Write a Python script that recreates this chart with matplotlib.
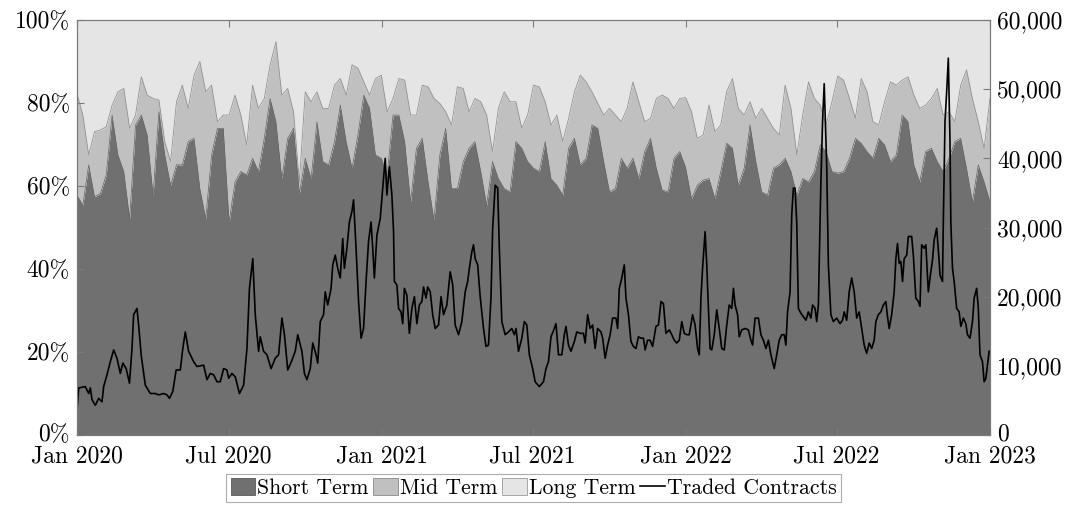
"""Short / mid / long term shares with traded contracts overlay."""

import matplotlib

matplotlib.use("Agg")

import matplotlib.pyplot as plt
import matplotlib.transforms as mtransforms
import numpy as np
import pandas as pd
from matplotlib.lines import Line2D
from matplotlib.patches import Patch
from matplotlib.ticker import FuncFormatter

START = pd.Timestamp("2020-01-01")
END = pd.Timestamp("2023-01-01")

# weekly shares in percent (long term is the remainder to 100)
short_term = [
    57.8, 55.4, 65.1, 57.4, 58.2, 62.7, 77.1, 67.5, 63.5, 52.2,
    74.7, 77.1, 72.3, 57.8, 77.9, 67.5, 60.2, 65.1, 65.1, 70.7,
    71.5, 59.4, 52.2, 67.5, 73.9, 73.9, 51.4, 61.0, 63.5, 62.7,
    66.7, 63.5, 71.5, 81.1, 75.5, 61.8, 71.5, 73.9, 58.2, 66.7,
    61.8, 75.5, 65.9, 65.1, 70.7, 79.5, 70.7, 64.3, 72.3, 81.9,
    78.7, 67.5, 66.7, 62.7, 77.1, 77.1, 70.7, 56.2, 69.1, 71.5,
    61.0, 51.8, 67.5, 73.9, 59.4, 59.4, 65.9, 69.1, 70.7, 63.5,
    55.4, 65.9, 61.8, 59.4, 58.6, 70.7, 69.1, 65.9, 64.3, 63.5,
    70.7, 61.8, 60.2, 57.8, 69.1, 71.5, 65.1, 66.7, 74.7, 73.9,
    65.9, 58.6, 59.4, 66.7, 64.3, 66.7, 61.8, 68.3, 71.5, 64.3,
    59.0, 58.6, 66.7, 68.3, 64.5, 57.0, 60.2, 61.4, 61.8, 57.0,
    63.5, 70.3, 69.1, 60.2, 64.3, 74.7, 65.9, 58.6, 57.8, 64.3,
    65.1, 66.7, 63.5, 57.8, 61.8, 61.0, 63.5, 69.9, 68.3, 63.5,
    63.1, 63.5, 66.7, 71.5, 70.3, 68.3, 66.7, 71.5, 69.9, 65.9,
    67.5, 77.1, 75.5, 65.1, 61.0, 68.3, 69.1, 65.9, 63.5, 66.7,
    70.7, 71.5, 64.3, 56.2, 65.1, 61.0, 56.2,
]
mid_term = [
    24.5, 21.7, 2.4, 15.7, 15.3, 11.6, 2.4, 15.2, 20.0, 21.7,
    2.4, 9.2, 9.6, 23.3, 2.8, 3.2, 5.7, 15.2, 19.2, 8.0,
    15.2, 30.6, 30.5, 16.8, 1.6, 3.2, 25.7, 20.9, 13.6, 7.2,
    17.6, 15.2, 9.6, 8.1, 19.3, 20.1, 12.0, 4.0, 2.8, 16.0,
    18.5, 7.2, 12.8, 13.6, 13.6, 6.4, 11.2, 24.9, 16.1, 3.2,
    3.2, 18.4, 20.0, 15.2, 4.0, 8.8, 14.8, 20.9, 8.0, 12.8,
    22.9, 29.3, 12.4, 4.0, 15.3, 24.5, 17.6, 8.8, 10.4, 16.8,
    21.7, 2.4, 16.9, 23.3, 21.7, 9.6, 4.8, 11.2, 20.0, 20.4,
    9.6, 12.9, 16.9, 12.9, 7.2, 11.2, 21.6, 18.4, 8.0, 6.0,
    11.2, 20.1, 17.7, 8.8, 14.4, 18.4, 18.5, 7.2, 4.8, 16.8,
    22.9, 22.5, 12.0, 12.8, 16.8, 20.9, 11.3, 10.9, 17.7, 16.1,
    11.2, 12.4, 16.8, 18.5, 12.8, 5.6, 10.4, 20.1, 18.5, 9.6,
    7.2, 17.6, 15.2, 9.7, 15.3, 24.1, 17.6, 9.6, 6.4, 16.8,
    23.4, 22.0, 14.4, 4.8, 15.6, 14.4, 8.8, 3.2, 10.4, 19.2,
    16.8, 8.4, 10.8, 16.8, 17.7, 11.2, 12.0, 17.6, 13.6, 11.2,
    4.8, 12.8, 23.7, 24.9, 10.4, 8.1, 24.9,
]

# traded contracts, days since 2020-01-01
contract_days = [
    0, 2, 10, 14, 16, 18, 22, 26, 30, 32, 36, 40, 44, 48, 52, 55, 59, 63, 66, 68,
    72, 74, 77, 82, 88, 94, 98, 104, 108, 111, 115, 119, 124, 127, 130, 134, 140, 144, 152, 156,
    160, 164, 168, 172, 176, 180, 182, 186, 190, 195, 200, 204, 207, 211, 214, 218, 220, 224, 228, 233,
    238, 242, 246, 249, 253, 258, 262, 265, 270, 273, 276, 280, 283, 287, 289, 292, 296, 298, 301, 305,
    307, 310, 313, 316, 319, 321, 324, 327, 330, 332, 335, 338, 341, 344, 347, 350, 353, 355, 357, 360,
    364, 367, 370, 372, 375, 378, 380, 381, 384, 386, 389, 391, 393, 396, 399, 402, 405, 408, 411, 414,
    416, 419, 421, 424, 427, 430, 434, 437, 440, 444, 448, 451, 454, 458, 462, 466, 469, 471, 474, 476,
    478, 481, 484, 488, 491, 494, 497, 499, 502, 505, 507, 510, 514, 518, 522, 525, 527, 530, 534, 537,
    540, 543, 547, 550, 555, 560, 563, 566, 569, 573, 575, 578, 582, 585, 587, 590, 593, 597, 600, 604,
    608, 610, 613, 616, 619, 622, 625, 629, 631, 634, 637, 640, 643, 647, 649, 651, 654, 657, 659, 662,
    665, 668, 671, 674, 677, 680, 682, 685, 688, 691, 695, 698, 701, 704, 707, 711, 714, 717, 720, 723,
    726, 729, 732, 735, 739, 742, 745, 747, 749, 751, 754, 756, 758, 760, 762, 765, 768, 771, 774, 777,
    780, 783, 786, 788, 790, 793, 795, 798, 802, 806, 809, 811, 814, 818, 821, 824, 827, 830, 833, 837,
    840, 843, 846, 849, 851, 853, 856, 858, 860, 862, 864, 866, 869, 872, 875, 878, 881, 883, 886, 888,
    890, 893, 895, 897, 900, 902, 905, 908, 912, 916, 919, 921, 924, 927, 930, 933, 936, 939, 942, 945,
    948, 951, 954, 957, 959, 962, 965, 968, 971, 973, 975, 978, 981, 983, 985, 987, 989, 991, 993, 996,
    998, 1002, 1004, 1007, 1010, 1012, 1014, 1017, 1019, 1022, 1024, 1027, 1029, 1032, 1035, 1036, 1039, 1040, 1042, 1044,
    1046, 1048, 1049, 1051, 1053, 1056, 1059, 1061, 1064, 1067, 1069, 1072, 1075, 1077, 1080, 1082, 1084, 1087, 1089, 1091,
    1093, 1095,
]
traded_contracts = [
    3600, 6800, 7000, 6000, 6800, 5100, 4300, 5300, 4800, 7000, 8700, 10600, 12300, 11100, 8900, 10400, 9600, 7500, 12500, 17400,
    18300, 15900, 11600, 7200, 6000, 6000, 5800, 6000, 5800, 5300, 6300, 9400, 9400, 12500, 14900, 12100, 10600, 9900, 10100, 8000,
    8900, 8700, 7700, 7700, 9600, 9400, 8200, 8900, 8400, 6000, 7200, 12500, 21200, 25500, 17400, 12100, 14200, 12100, 11600, 9600,
    11100, 11600, 16900, 14500, 9400, 10800, 12100, 14500, 12100, 8900, 8000, 9600, 13300, 11600, 10400, 16400, 17400, 20700, 18800, 21200,
    24600, 26000, 24100, 22700, 28400, 24100, 27000, 30800, 32300, 34000, 27000, 19300, 14000, 15400, 22200, 28000, 30800, 27000, 22700, 28900,
    31300, 35700, 40000, 34700, 38800, 34700, 29400, 22200, 21700, 18300, 17800, 16100, 21200, 20200, 14700, 18300, 20000, 16100, 18800, 19300,
    21400, 19800, 21400, 20700, 17400, 15400, 15900, 20000, 17400, 18800, 23600, 21700, 15900, 14500, 16400, 20700, 22200, 24100, 26500, 27500,
    25500, 24600, 20000, 15400, 12800, 13000, 20000, 29900, 36100, 35700, 27000, 16400, 14500, 14900, 15400, 14500, 15400, 12100, 14000, 16400,
    15900, 11600, 9600, 7700, 7000, 7700, 9600, 10600, 14200, 15400, 16100, 11600, 11600, 14500, 15700, 13000, 12100, 13500, 14900, 14700,
    14700, 13300, 17400, 15400, 15900, 12500, 15400, 14900, 14000, 11100, 13000, 14500, 16900, 16900, 15400, 21200, 22700, 24600, 19800, 17400,
    13500, 12800, 12500, 14200, 14000, 14000, 12300, 13700, 13700, 12800, 15700, 15900, 19300, 19000, 14700, 15200, 14500, 13700, 13300, 13700,
    16400, 14700, 14500, 14500, 17400, 15900, 12500, 11600, 19800, 24100, 29400, 24600, 18300, 12500, 12300, 14500, 18100, 15400, 12500, 12300,
    15900, 18800, 18300, 21200, 18800, 17400, 14200, 15200, 15400, 15200, 13700, 13000, 16900, 16900, 14500, 13700, 12500, 13700, 11600, 9600,
    11600, 13700, 14500, 14500, 13000, 17800, 20700, 31800, 35700, 35700, 30800, 18300, 17600, 17100, 16600, 17800, 16900, 18800, 18300, 16400,
    18800, 36600, 45300, 50800, 39000, 24600, 17400, 16400, 16900, 16100, 16600, 17800, 16600, 20700, 22700, 20700, 16900, 17800, 15400, 13000,
    11800, 13300, 12500, 13700, 16400, 17400, 17800, 18800, 19300, 17100, 15400, 17400, 20700, 25500, 27700, 24800, 25100, 22200, 25500, 26000,
    28700, 28700, 26000, 19800, 19300, 18600, 27500, 27000, 27500, 20700, 22700, 25300, 28200, 29900, 25100, 23100, 22200, 30800, 45300, 49600,
    54500, 42400, 30800, 24100, 22200, 18300, 17800, 15700, 16900, 16100, 14500, 14000, 16400, 19800, 21200, 18300, 11600, 10600, 7700, 8200,
    10100, 12100,
]

tick_dates = ["2020-01-01", "2020-07-01", "2021-01-01", "2021-07-01",
              "2022-01-01", "2022-07-01", "2023-01-01"]
tick_labels = ["Jan 2020", "Jul 2020", "Jan 2021", "Jul 2021",
               "Jan 2022", "Jul 2022", "Jan 2023"]

C_SHORT = "#707070"
C_MID = "#c0c0c0"
C_LONG = "#e5e5e5"
C_FRAME = "#7a7a7a"

plt.rcParams["font.family"] = ["cmr10", "DejaVu Serif"]
plt.rcParams["axes.formatter.use_mathtext"] = True


def main() -> None:
    week_dates = pd.date_range(START, END, periods=len(short_term))
    short = np.array(short_term)
    mid = np.array(mid_term)
    top = short + mid
    contract_dates = START + pd.to_timedelta(contract_days, unit="D")

    fig = plt.figure(figsize=(10.77, 5.08), dpi=100)
    ax = fig.add_axes([0.0715, 0.1437, 0.8477, 0.8169])

    ax.fill_between(week_dates, 0, short, color=C_SHORT, lw=0)
    ax.fill_between(week_dates, short, top, color=C_MID, lw=0)
    ax.fill_between(week_dates, top, 100, color=C_LONG, lw=0)
    ax.plot(week_dates, top, color="#929292", lw=0.6)
    ax.plot(week_dates, short, color="#666666", lw=0.5)

    ax.set_xlim(START, END)
    ax.set_ylim(0, 100)
    ax.set_yticks(range(0, 101, 20))
    ax.yaxis.set_major_formatter(FuncFormatter(lambda v, _: f"{int(v)}%"))
    ax.set_xticks([pd.Timestamp(d) for d in tick_dates])
    ax.set_xticklabels(tick_labels)

    ax2 = ax.twinx()
    ax2.plot(contract_dates, traded_contracts, color="black", lw=1.2)
    ax2.set_ylim(0, 60000)
    ax2.set_yticks(range(0, 60001, 10000))
    ax2.yaxis.set_major_formatter(FuncFormatter(lambda v, _: f"{int(v):,}"))
    ax2.set_xlim(START, END)

    ax.tick_params(axis="x", direction="in", top=True, bottom=True, length=5,
                   color=C_FRAME, labelsize=17, pad=7.5)
    ax.tick_params(axis="y", direction="in", left=True, right=False, length=5,
                   color=C_FRAME, labelsize=17, pad=5)
    ax2.tick_params(axis="y", direction="in", right=True, length=5,
                    color=C_FRAME, labelsize=17, pad=5)
    for axis in (ax, ax2):
        for spine in axis.spines.values():
            spine.set_color(C_FRAME)
            spine.set_linewidth(0.8)

    # lift the two zero labels slightly so they clear the date labels
    lift = mtransforms.ScaledTranslation(0, 2 / 72, fig.dpi_scale_trans)
    fig.canvas.draw()
    for axis in (ax, ax2):
        first = axis.yaxis.get_major_ticks()[0]
        for lab in (first.label1, first.label2):
            lab.set_transform(lab.get_transform() + lift)

    handles = [
        Patch(facecolor=C_SHORT, edgecolor="#5a5a5a", lw=0.6),
        Patch(facecolor=C_MID, edgecolor="#8a8a8a", lw=0.6),
        Patch(facecolor=C_LONG, edgecolor="#9a9a9a", lw=0.6),
        Line2D([], [], color="black", lw=1.2),
    ]
    labels = ["Short Term", "Mid Term", "Long Term", "Traded Contracts"]
    leg = fig.legend(handles, labels, loc="upper center", bbox_to_anchor=(0.4954, 0.067),
                     ncol=4, frameon=True, fancybox=False, fontsize=15.7,
                     handlelength=1.13, handleheight=0.77, handletextpad=0.1,
                     columnspacing=0.2, borderpad=0.2, borderaxespad=0)
    leg.get_frame().set_edgecolor("#9a9a9a")
    leg.get_frame().set_linewidth(0.8)

    fig.savefig("out.png", dpi=100)
    plt.close(fig)


if __name__ == "__main__":
    main()
